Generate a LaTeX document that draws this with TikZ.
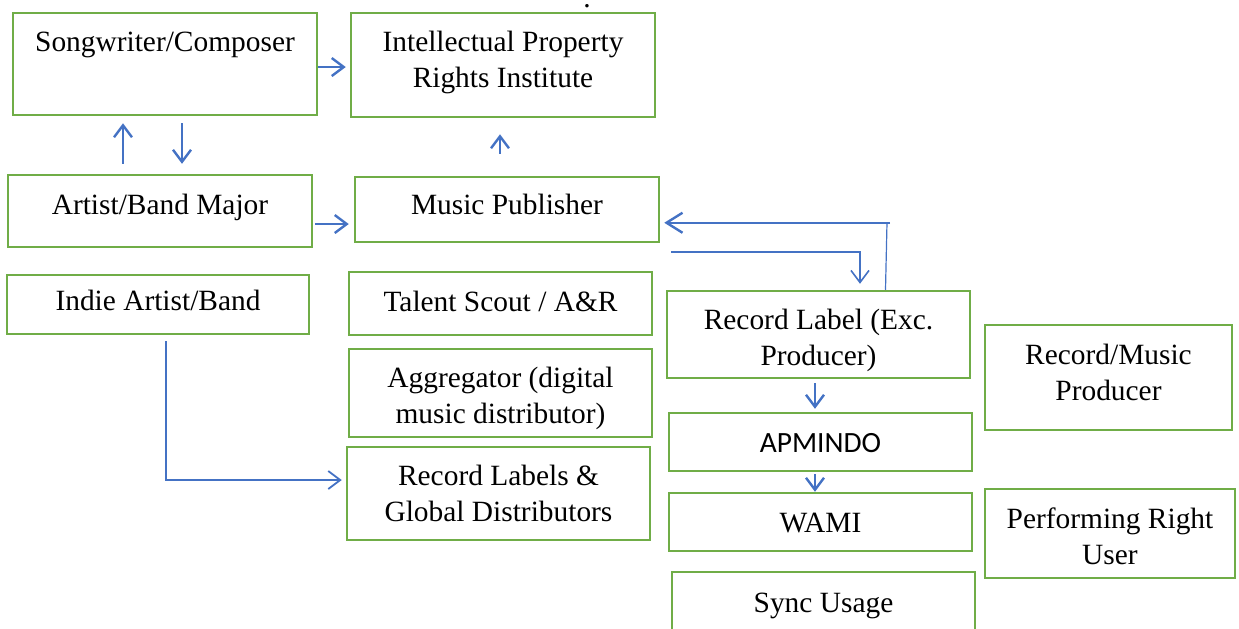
\documentclass[tikz,border=0pt]{standalone}
\usepackage{fontspec}
\setmainfont{Liberation Serif}
\newfontfamily\calibrifont{Carlito}
\usetikzlibrary{arrows.meta}
\definecolor{boxgreen}{HTML}{70AD47}
\definecolor{arrblue}{HTML}{4472C4}
\begin{document}
\begin{tikzpicture}[x=0.5pt,y=-0.5pt,
    font=\fontsize{14.7}{18}\selectfont,
    box/.style={draw=boxgreen,line width=1.25pt,inner sep=0pt},
    txt/.style={align=center,inner sep=0pt},
    arr/.style={draw=arrblue,line width=1.2pt,-{Straight Barb[length=6pt,width=9pt]}},
    thinline/.style={draw=arrblue,line width=0.6pt}]
  \useasboundingbox (0,0) rectangle (1239,628);

  % boxes, left column
  \node[box,minimum width=152pt,minimum height=51pt] (song) at (165,64) {};
  \node[box,minimum width=152pt,minimum height=36pt] (major) at (160,211) {};
  \node[box,minimum width=151pt,minimum height=29.5pt] (indie) at (158,304.5) {};

  % boxes, middle column
  \node[box,minimum width=152pt,minimum height=52pt] (ipri) at (503,65) {};
  \node[box,minimum width=152pt,minimum height=32.5pt] (pub) at (507,209.5) {};
  \node[box,minimum width=151.5pt,minimum height=31.5pt] (scout) at (500.5,303.5) {};
  \node[box,minimum width=151.5pt,minimum height=44pt] (aggr) at (500.5,393) {};
  \node[box,minimum width=151.5pt,minimum height=46.5pt] (labels) at (498.5,493.5) {};

  % boxes, right side
  \node[box,minimum width=151.5pt,minimum height=43.5pt] (rlabel) at (818.5,334.5) {};
  \node[box,minimum width=151.5pt,minimum height=29pt] (apmindo) at (820.5,442) {};
  \node[box,minimum width=151.5pt,minimum height=29pt] (wami) at (820.5,522) {};
  \node[box,minimum width=151.5pt,minimum height=34pt] (sync) at (823.5,606) {};
  \node[box,minimum width=123.5pt,minimum height=52.5pt] (producer) at (1108.5,377.5) {};
  \node[box,minimum width=125pt,minimum height=44.5pt] (pru) at (1110,533.5) {};

  % texts
  \node[txt] (song-t) at ([yshift=9.5pt]song.center) {Songwriter/Composer};
  \node[txt] (major-t) at ([yshift=2pt]major.center) {Artist/Band Major};
  \node[txt] (indie-t) at ([yshift=2pt]indie.center) {Indie Artist/Band};
  \node[txt] (ipri-t) at ([yshift=1.5pt]ipri.center) {Intellectual Property\\Rights Institute};
  \node[txt] (pub-t) at ([yshift=2.5pt]pub.center) {Music Publisher};
  \node[txt] (scout-t) at ([yshift=1pt]scout.center) {Talent Scout / A\&R};
  \node[txt] (aggr-t) at ([yshift=-2.5pt]aggr.center) {Aggregator (digital\\music distributor)};
  \node[txt] (labels-t) at (labels.center) {Record Labels \&\\Global Distributors};
  \node[txt] (rlabel-t) at ([yshift=-3pt]rlabel.center) {Record Label (Exc.\\Producer)};
  \node[txt] (apmindo-t) at ([yshift=-0.5pt]apmindo.center) {\calibrifont APMINDO};
  \node[txt] (wami-t) at ([yshift=-0.5pt]wami.center) {WAMI};
  \node[txt] (sync-t) at (sync.center) {Sync Usage};
  \node[txt] (producer-t) at ([yshift=2.5pt]producer.center) {Record/Music\\Producer};
  \node[txt] (pru-t) at ([yshift=-1.25pt]pru.center) {Performing Right\\User};
  \node[inner sep=0pt] (dot) at (587,6) {.};

  % connectors
  \draw[arr,shorten >=2pt] ([yshift=-1.5pt]song.east) -- ([yshift=-1.5pt]song.east -| ipri.west);
  \draw[arr,shorten <=5pt,shorten >=3.5pt] ([xshift=-18.5pt]major.north) -- ([xshift=-18.5pt]major.north |- song.south);
  \draw[arr,shorten <=3.5pt,shorten >=5pt] ([xshift=8.5pt]song.south) -- ([xshift=8.5pt]song.south |- major.north);
  \draw[arr,shorten <=11pt,shorten >=8pt] ([xshift=-3.5pt]pub.north) -- ([xshift=-3.5pt]pub.north |- ipri.south);
  \draw[arr,shorten <=1pt,shorten >=2.5pt] ([yshift=-6.5pt]major.east) -- ([yshift=-6.5pt]major.east -| pub.west);
  \draw[arr,line width=0.9pt] ([xshift=4pt,yshift=-3pt]indie.south) |- ([xshift=-2pt,yshift=6.75pt]labels.west);

  \coordinate (backturn) at ([xshift=34.25pt,yshift=33.5pt]rlabel.north);
  \draw[thinline] ([xshift=-0.75pt]rlabel.north -| backturn) -- (backturn);
  \draw[arr,-{Straight Barb[length=8pt,width=10pt]},shorten >=2pt] ([xshift=1.5pt]backturn) -- (backturn -| pub.east);
  \draw[arr,line width=0.8pt] ([xshift=5.5pt,yshift=-21.25pt]pub.east) -| ([xshift=20.75pt,yshift=3pt]rlabel.north);

  \draw[arr,shorten <=2pt,shorten >=1.5pt] ([xshift=-1.75pt]rlabel.south) -- ([xshift=-1.75pt]rlabel.south |- apmindo.north);
  \draw[arr,shorten <=1pt] ([xshift=-2.75pt]apmindo.south) -- ([xshift=-2.75pt]apmindo.south |- wami.north);
\end{tikzpicture}
\end{document}
